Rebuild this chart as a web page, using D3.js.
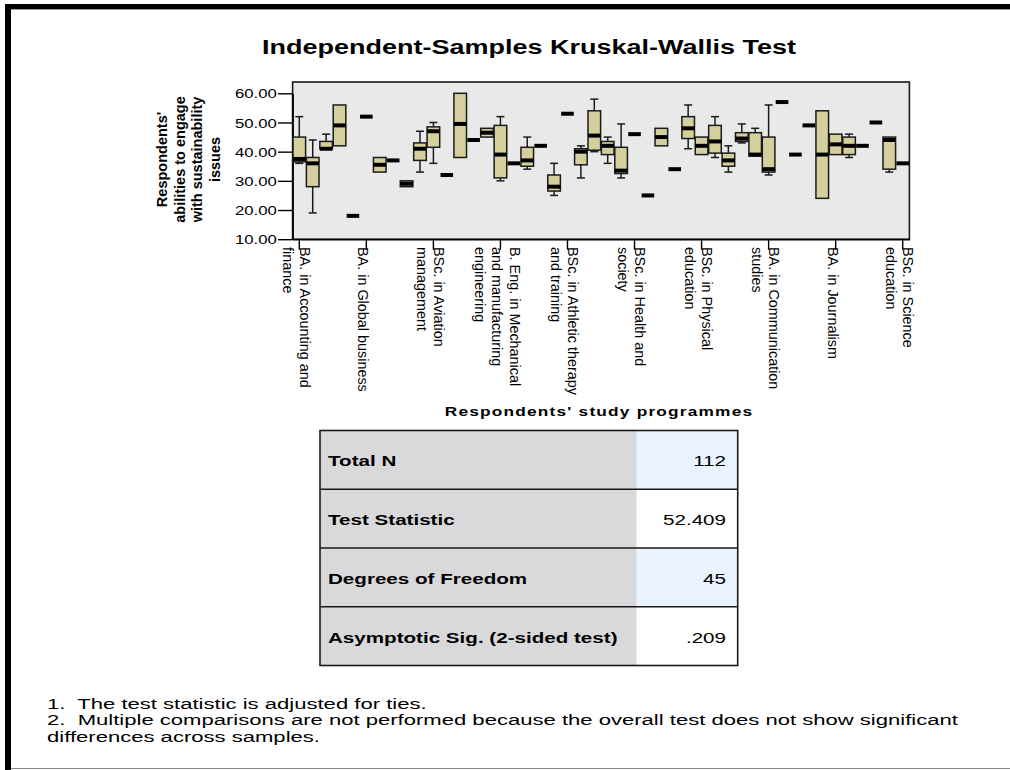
<!DOCTYPE html>
<html>
<head>
<meta charset="utf-8">
<script src="https://cdn.jsdelivr.net/npm/d3@7"></script>
<style>
  html, body { margin: 0; padding: 0; background: #ffffff; }
  svg { display: block; font-family: "Liberation Sans", Arial, Helvetica, sans-serif; }
</style>
</head>
<body>
<svg id="chart" width="1010" height="770"></svg>
<script>
// ---- data -------------------------------------------------------------
// 46 study programmes (groups); only every fifth one carries a printed label
const groupCount = 46;
const labelledGroups = [0, 5, 10, 15, 20, 25, 30, 35, 40, 45];
const groupLabels = [
  "BA. in Accounting and\nfinance",
  "BA. in Global business",
  "BSc. in Aviation\nmanagement",
  "B. Eng. in Mechanical\nand manufacturing\nengineering",
  "BSc. in Athletic therapy\nand training",
  "BSc. in Health and\nsociety",
  "BSc. in Physical\neducation",
  "BA. in Communication\nstudies",
  "BA. in Journalism",
  "BSc. in Science\neducation"
];

// five-number summaries per group
const minValues = [36, 19, 41, 42, 18, 52, 33, 37, 28, 33, 36, 32, 38, 44, 45, 30, 36, 34, 42, 25, 53, 31, 40, 36, 31, 46,
                   25, 42, 34, 41, 39, 38, 33, 43, 38.5, 32, 57, 39, 49, 24, 39, 38, 42, 50, 33, 36];
const q1Values  = [36.5, 28, 41, 42, 18, 52, 33, 37, 28, 37, 41.5, 32, 38, 44, 45, 31, 36, 35, 42, 26.5, 53, 35.5, 40.5, 39, 32.5, 46,
                   25, 42, 34, 44.5, 39, 39.5, 35, 43.5, 38.5, 33, 57, 39, 49, 24, 39, 39, 42, 50, 34, 36];
const medianValues = [37.5, 36, 41, 49, 18, 52, 35.5, 37, 29, 41, 47, 32, 49.5, 44, 46.5, 39, 36, 37, 42, 28, 53, 40, 45.5, 42, 33.5, 46,
                   25, 45, 34, 48, 42, 43.5, 37, 44.5, 39, 34, 57, 39, 49, 39, 42.5, 42, 42, 50, 44, 36];
const q3Values  = [45, 38, 43.5, 56, 18, 52, 38, 37, 30, 43, 48.5, 32, 60, 44, 48, 49, 36, 41.5, 42, 32, 53, 41, 54, 43.5, 41.5, 46,
                   25, 48, 34, 52, 45, 49, 39.5, 46.5, 46.5, 45, 57, 39, 49, 54, 46, 45, 42, 50, 45, 36];
const maxValues = [52, 44, 46, 56, 18, 52, 38, 37, 30, 47, 50, 32, 60, 44, 48, 52, 36, 45, 42, 36, 53, 42, 58, 45, 49.5, 46,
                   25, 48, 34, 56, 45, 52, 42, 49.5, 48, 56, 57, 39, 49, 54, 46, 46, 42, 50, 45, 36];

const yTickValues = [10, 20, 30, 40, 50, 60];

const statNames  = ["Total N", "Test Statistic", "Degrees of Freedom", "Asymptotic Sig. (2-sided test)"];
const statValues = ["112", "52.409", "45", ".209"];

const footnoteLines = [
  "1.  The test statistic is adjusted for ties.",
  "2.  Multiple comparisons are not performed because the overall test does not show significant",
  "differences across samples."
];

// ---- drawing ------------------------------------------------------------
const WIDE = 1.33;            // horizontal stretch of the upright lettering
const svg = d3.select("#chart");

function wideText(parent, x, y, str, o) {
  const g = parent.append("g")
    .attr("transform", `translate(${x},${y}) scale(${o.sx || WIDE},1)`);
  const t = g.append("text")
    .attr("x", 0).attr("y", 0)
    .attr("text-anchor", o.anchor || "start")
    .attr("font-size", o.size)
    .attr("font-weight", o.weight || "normal")
    .attr("fill", o.fill || "#000")
    .style("white-space", "pre")
    .text(str);
  if (o.spacing) t.attr("letter-spacing", o.spacing);
  return { g, t };
}

// page frame
svg.append("rect").attr("x", 5).attr("y", 4).attr("width", 1005).attr("height", 5).attr("fill", "#000");
svg.append("line").attr("x1", 11).attr("x2", 1010).attr("y1", 9.5).attr("y2", 9.5).attr("stroke", "#9a9a9a").attr("stroke-width", 1);
svg.append("rect").attr("x", 5).attr("y", 4).attr("width", 6).attr("height", 766).attr("fill", "#000");
svg.append("line").attr("x1", 11).attr("x2", 1010).attr("y1", 768.5).attr("y2", 768.5).attr("stroke", "#8a8a8a").attr("stroke-width", 1);

// title
wideText(svg, 529, 53.5, "Independent-Samples Kruskal-Wallis Test", { size: 20.3, weight: "bold", anchor: "middle" });

// plot geometry
const plot = { left: 292.6, right: 909.4, top: 82, bottom: 239.2 };
const x = d3.scaleBand().domain(d3.range(groupCount)).range([plot.left, plot.right]).paddingInner(0).paddingOuter(0);
const y = d3.scaleLinear().domain([10, 60]).range([plot.bottom, 93.3]);
const bw = x.bandwidth();

svg.append("rect")
  .attr("x", plot.left).attr("y", plot.top)
  .attr("width", plot.right - plot.left).attr("height", plot.bottom - plot.top)
  .attr("fill", "#e9e9e9").attr("stroke", "#1a1a1a").attr("stroke-width", 1.6);

// y axis
const yAxis = svg.append("g")
  .attr("transform", `translate(${plot.left},0)`)
  .call(d3.axisLeft(y).tickValues(yTickValues).tickSize(14.6).tickSizeOuter(0).tickPadding(1).tickFormat(d3.format(".2f")));
yAxis.select(".domain").attr("stroke", "#000").attr("stroke-width", 1.6);
yAxis.selectAll(".tick line").attr("stroke", "#000").attr("stroke-width", 1.4);
yAxis.selectAll(".tick text")
  .attr("font-family", null)
  .attr("font-size", 12.6)
  .attr("fill", "#000")
  .attr("x", -15.8 / WIDE)
  .attr("dy", "0.36em")
  .attr("transform", `scale(${WIDE},1)`);

// x axis (ticks only at labelled groups)
const xAxis = svg.append("g")
  .attr("transform", `translate(0,${plot.bottom})`)
  .call(d3.axisBottom(x).tickValues(labelledGroups).tickSize(10.5).tickSizeOuter(0).tickFormat(""));
xAxis.select(".domain").attr("stroke", "#000").attr("stroke-width", 1.6);
xAxis.selectAll(".tick line").attr("stroke", "#000").attr("stroke-width", 1.4);

// rotated category labels
const lineGap = 17.5;
labelledGroups.forEach((gi, k) => {
  const lines = groupLabels[k].split("\n");
  const n = lines.length;
  const g = svg.append("g")
    .attr("transform", `translate(${x(gi) + bw / 2},247) rotate(90)`);
  lines.forEach((ln, j) => {
    g.append("text")
      .attr("x", 0)
      .attr("y", 8 + (j - (n - 1) / 2) * lineGap)
      .attr("font-size", 14.4)
      .attr("fill", "#000")
      .text(ln);
  });
});

// y axis title
const yTitle = ["Respondents'", "abilities to engage", "with sustainability", "issues"];
const yt = svg.append("g").attr("transform", "translate(0,159.5) rotate(-90)");
yTitle.forEach((ln, j) => {
  yt.append("text")
    .attr("x", 0).attr("y", 167.1 + j * 17.5)
    .attr("text-anchor", "middle")
    .attr("font-size", 14.5).attr("font-weight", "bold")
    .attr("fill", "#000")
    .text(ln);
});

// x axis title
wideText(svg, 599, 416, "Respondents' study programmes", { size: 13, weight: "bold", anchor: "middle", spacing: 0.9 });

// boxplots
const groups = d3.range(groupCount).map(i => ({
  i, min: minValues[i], q1: q1Values[i], med: medianValues[i], q3: q3Values[i], max: maxValues[i]
}));
const boxes = svg.append("g");
const ink = "#1b1b1b";
const capW = 8;

groups.forEach(d => {
  const cx = x(d.i) + bw / 2;
  if (d.max > d.q3) {
    boxes.append("line").attr("x1", cx).attr("x2", cx).attr("y1", y(d.max)).attr("y2", y(d.q3))
      .attr("stroke", ink).attr("stroke-width", 1.5);
    boxes.append("line").attr("x1", cx - capW / 2).attr("x2", cx + capW / 2).attr("y1", y(d.max)).attr("y2", y(d.max))
      .attr("stroke", ink).attr("stroke-width", 1.5);
  }
  if (d.min < d.q1) {
    boxes.append("line").attr("x1", cx).attr("x2", cx).attr("y1", y(d.q1)).attr("y2", y(d.min))
      .attr("stroke", ink).attr("stroke-width", 1.5);
    boxes.append("line").attr("x1", cx - capW / 2).attr("x2", cx + capW / 2).attr("y1", y(d.min)).attr("y2", y(d.min))
      .attr("stroke", ink).attr("stroke-width", 1.5);
  }
  if (d.q3 > d.q1) {
    boxes.append("rect")
      .attr("x", x(d.i) + 0.4).attr("y", y(d.q3))
      .attr("width", bw - 0.8).attr("height", y(d.q1) - y(d.q3))
      .attr("fill", "#d4cf9c").attr("stroke", ink).attr("stroke-width", 1.5);
  }
  boxes.append("line")
    .attr("x1", x(d.i) + 0.4).attr("x2", x(d.i) + bw - 0.4)
    .attr("y1", y(d.med)).attr("y2", y(d.med))
    .attr("stroke", "#000").attr("stroke-width", 4);
});

// statistics table
const tbl = { left: 320, right: 737.7, split: 636.7, top: 430.5, rowH: 58.75 };
const tg = svg.append("g");
statNames.forEach((name, r) => {
  const ry = tbl.top + r * tbl.rowH;
  tg.append("rect").attr("x", tbl.left).attr("y", ry).attr("width", tbl.split - tbl.left).attr("height", tbl.rowH)
    .attr("fill", "#d9d9db");
  tg.append("rect").attr("x", tbl.split).attr("y", ry).attr("width", tbl.right - tbl.split).attr("height", tbl.rowH)
    .attr("fill", r % 2 === 0 ? "#e9f3fd" : "#ffffff");
  wideText(tg, 328, ry + tbl.rowH / 2 + 6.5, name, { size: 15.5, weight: "bold" });
  wideText(tg, 726, ry + tbl.rowH / 2 + 6.5, statValues[r], { size: 15.5, anchor: "end" });
});
d3.range(1, statNames.length).forEach(r => {
  tg.append("line").attr("x1", tbl.left).attr("x2", tbl.right)
    .attr("y1", tbl.top + r * tbl.rowH).attr("y2", tbl.top + r * tbl.rowH)
    .attr("stroke", "#1a1a1a").attr("stroke-width", 1.6);
});
tg.append("rect").attr("x", tbl.left).attr("y", tbl.top)
  .attr("width", tbl.right - tbl.left).attr("height", tbl.rowH * statNames.length)
  .attr("fill", "none").attr("stroke", "#1a1a1a").attr("stroke-width", 1.6);

// footnotes, stretched so the long line spans the page width
const notes = footnoteLines.map((ln, j) => wideText(svg, 47, 708.5 + j * 16.5, ln, { size: 15, sx: 1 }));
const natural = notes[1].t.node().getComputedTextLength();
const noteSx = (958 - 47) / natural;
notes.forEach((n, j) => n.g.attr("transform", `translate(47,${708.5 + j * 16.5}) scale(${noteSx},1)`));
</script>
</body>
</html>
